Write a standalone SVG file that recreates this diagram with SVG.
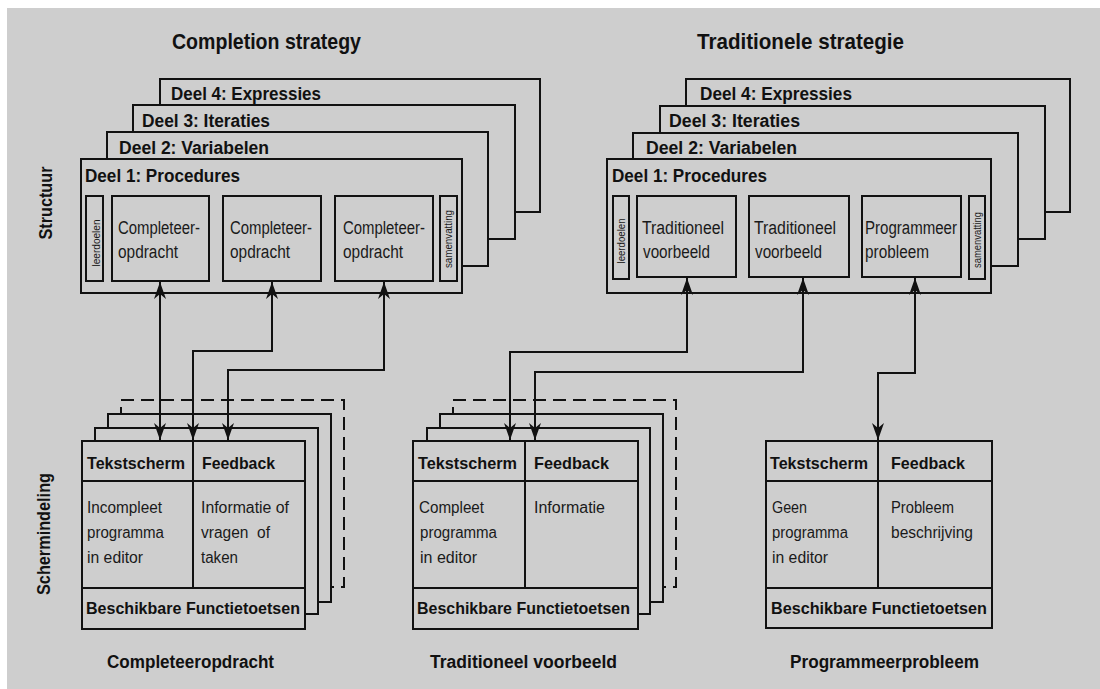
<svg xmlns="http://www.w3.org/2000/svg" width="1100" height="689" viewBox="0 0 1100 689">
<defs>
<style>
.bg{fill:#cecece}
.box{fill:#cecece;stroke:#111;stroke-width:2}
.dash{fill:#cecece;stroke:#111;stroke-width:2;stroke-dasharray:13 7}
.ln{fill:none;stroke:#111;stroke-width:2}
.con{fill:none;stroke:#111;stroke-width:2;marker-start:url(#ah);marker-end:url(#ah)}
text{font-family:"Liberation Sans Narrow","Liberation Sans",Arial,sans-serif;fill:#111}
.t{font-size:22px;font-weight:bold}
.h{font-size:18px;font-weight:bold}
.v{font-size:19px;font-weight:bold}
.b{font-size:18px;fill:#1a1a1a}
.s{font-size:11px;fill:#1a1a1a}
.sh{font-size:17px;font-weight:bold}
.sb{font-size:16px;fill:#1a1a1a}
.lab{font-size:18px;font-weight:bold}
</style>
<marker id="ah" viewBox="0 0 17 12" refX="17" refY="6" markerWidth="17" markerHeight="12" markerUnits="userSpaceOnUse" orient="auto-start-reverse">
<path d="M0,0 L17,6 L0,12 L5,6 Z" fill="#111"/>
</marker>
</defs>
<rect x="0" y="0" width="1100" height="689" fill="#ffffff"/>
<rect class="bg" x="7" y="8" width="1093" height="681"/>

<g id="side-labels">
<text class="v" transform="translate(52,203) rotate(-90)" text-anchor="middle" textLength="73" lengthAdjust="spacingAndGlyphs">Structuur</text>
<text class="v" transform="translate(50,534) rotate(-90)" text-anchor="middle" textLength="122" lengthAdjust="spacingAndGlyphs">Schermindeling</text>
</g>

<g id="completion-strategy">
<text class="t" x="172" y="49" textLength="189" lengthAdjust="spacingAndGlyphs">Completion strategy</text>
<g id="c-deel4"><rect class="box" x="160" y="79" width="380" height="133"/><text class="h" x="171" y="100" textLength="150" lengthAdjust="spacingAndGlyphs">Deel 4: Expressies</text></g>
<g id="c-deel3"><rect class="box" x="133" y="105" width="382" height="134"/><text class="h" x="142" y="127" textLength="128" lengthAdjust="spacingAndGlyphs">Deel 3: Iteraties</text></g>
<g id="c-deel2"><rect class="box" x="107" y="132" width="381" height="134"/><text class="h" x="119" y="154" textLength="150" lengthAdjust="spacingAndGlyphs">Deel 2: Variabelen</text></g>
<g id="c-deel1"><rect class="box" x="81" y="159" width="381" height="134"/><text class="h" x="85" y="182" textLength="155" lengthAdjust="spacingAndGlyphs">Deel 1: Procedures</text></g>
<g id="c-leerdoelen"><rect class="box" x="86" y="196" width="17" height="85"/><text class="s" transform="translate(100,243) rotate(-90)" text-anchor="middle" textLength="47" lengthAdjust="spacingAndGlyphs">leerdoelen</text></g>
<g id="c-opdr1"><rect class="box" x="112" y="196" width="97" height="85"/><text class="b" x="118" y="234" textLength="82" lengthAdjust="spacingAndGlyphs">Completeer-</text><text class="b" x="118" y="258" textLength="60" lengthAdjust="spacingAndGlyphs">opdracht</text></g>
<g id="c-opdr2"><rect class="box" x="223" y="196" width="98" height="85"/><text class="b" x="230" y="234" textLength="82" lengthAdjust="spacingAndGlyphs">Completeer-</text><text class="b" x="230" y="258" textLength="60" lengthAdjust="spacingAndGlyphs">opdracht</text></g>
<g id="c-opdr3"><rect class="box" x="335" y="196" width="98" height="85"/><text class="b" x="343" y="234" textLength="82" lengthAdjust="spacingAndGlyphs">Completeer-</text><text class="b" x="343" y="258" textLength="60" lengthAdjust="spacingAndGlyphs">opdracht</text></g>
<g id="c-samenvatting"><rect class="box" x="440" y="196" width="17" height="85"/><text class="s" transform="translate(452,239) rotate(-90)" text-anchor="middle" textLength="58" lengthAdjust="spacingAndGlyphs">samenvatting</text></g>
</g>

<g id="traditionele-strategie">
<text class="t" x="697" y="49" textLength="207" lengthAdjust="spacingAndGlyphs">Traditionele strategie</text>
<g id="t-deel4"><rect class="box" x="686" y="79" width="384" height="133"/><text class="h" x="700" y="100" textLength="152" lengthAdjust="spacingAndGlyphs">Deel 4: Expressies</text></g>
<g id="t-deel3"><rect class="box" x="660" y="106" width="385" height="133"/><text class="h" x="669" y="127" textLength="131" lengthAdjust="spacingAndGlyphs">Deel 3: Iteraties</text></g>
<g id="t-deel2"><rect class="box" x="633" y="133" width="385" height="133"/><text class="h" x="646" y="154" textLength="151" lengthAdjust="spacingAndGlyphs">Deel 2: Variabelen</text></g>
<g id="t-deel1"><rect class="box" x="607" y="159" width="384" height="134"/><text class="h" x="612" y="182" textLength="155" lengthAdjust="spacingAndGlyphs">Deel 1: Procedures</text></g>
<g id="t-leerdoelen"><rect class="box" x="613" y="196" width="16" height="83"/><text class="s" transform="translate(625,241) rotate(-90)" text-anchor="middle" textLength="45" lengthAdjust="spacingAndGlyphs">leerdoelen</text></g>
<g id="t-voorbeeld1"><rect class="box" x="637" y="196" width="99" height="81"/><text class="b" x="642" y="234" textLength="82" lengthAdjust="spacingAndGlyphs">Traditioneel</text><text class="b" x="643" y="258" textLength="67" lengthAdjust="spacingAndGlyphs">voorbeeld</text></g>
<g id="t-voorbeeld2"><rect class="box" x="749" y="196" width="100" height="81"/><text class="b" x="754" y="234" textLength="82" lengthAdjust="spacingAndGlyphs">Traditioneel</text><text class="b" x="755" y="258" textLength="67" lengthAdjust="spacingAndGlyphs">voorbeeld</text></g>
<g id="t-probleem"><rect class="box" x="862" y="196" width="99" height="81"/><text class="b" x="865" y="234" textLength="92" lengthAdjust="spacingAndGlyphs">Programmeer</text><text class="b" x="865" y="258" textLength="64" lengthAdjust="spacingAndGlyphs">probleem</text></g>
<g id="t-samenvatting"><rect class="box" x="969" y="196" width="16" height="83"/><text class="s" transform="translate(981,240) rotate(-90)" text-anchor="middle" textLength="56" lengthAdjust="spacingAndGlyphs">samenvatting</text></g>
</g>

<g id="scherm-completeeropdracht">
<rect class="dash" x="121" y="400" width="223" height="187"/>
<rect class="box" x="108" y="414" width="223" height="188"/>
<rect class="box" x="95" y="428" width="223" height="186"/>
<rect class="box" x="82" y="441" width="223" height="188"/>
<path class="ln" d="M82,481 H305 M82,588 H305 M193,441 V588"/>
<text class="sh" x="87" y="469" textLength="98" lengthAdjust="spacingAndGlyphs">Tekstscherm</text>
<text class="sh" x="202" y="469" textLength="73" lengthAdjust="spacingAndGlyphs">Feedback</text>
<text class="sb" x="87" y="513" textLength="75" lengthAdjust="spacingAndGlyphs">Incompleet</text>
<text class="sb" x="87" y="538" textLength="77" lengthAdjust="spacingAndGlyphs">programma</text>
<text class="sb" x="87" y="563" textLength="56" lengthAdjust="spacingAndGlyphs">in editor</text>
<text class="sb" x="201" y="513" textLength="88" lengthAdjust="spacingAndGlyphs">Informatie of</text>
<text class="sb" x="201" y="538" textLength="69" lengthAdjust="spacingAndGlyphs" xml:space="preserve">vragen  of</text>
<text class="sb" x="201" y="563" textLength="37" lengthAdjust="spacingAndGlyphs">taken</text>
<text class="sh" x="86" y="614" textLength="214" lengthAdjust="spacingAndGlyphs">Beschikbare Functietoetsen</text>
<text class="lab" x="107" y="668" textLength="167" lengthAdjust="spacingAndGlyphs">Completeeropdracht</text>
</g>

<g id="scherm-traditioneel-voorbeeld">
<rect class="dash" x="453" y="400" width="223" height="187"/>
<rect class="box" x="440" y="414" width="223" height="188"/>
<rect class="box" x="427" y="428" width="223" height="186"/>
<rect class="box" x="413" y="441" width="225" height="188"/>
<path class="ln" d="M413,481 H638 M413,588 H638 M525,441 V588"/>
<text class="sh" x="418" y="469" textLength="99" lengthAdjust="spacingAndGlyphs">Tekstscherm</text>
<text class="sh" x="534" y="469" textLength="75" lengthAdjust="spacingAndGlyphs">Feedback</text>
<text class="sb" x="419" y="513" textLength="65" lengthAdjust="spacingAndGlyphs">Compleet</text>
<text class="sb" x="420" y="538" textLength="77" lengthAdjust="spacingAndGlyphs">programma</text>
<text class="sb" x="420" y="563" textLength="57" lengthAdjust="spacingAndGlyphs">in editor</text>
<text class="sb" x="534" y="513" textLength="71" lengthAdjust="spacingAndGlyphs">Informatie</text>
<text class="sh" x="417" y="614" textLength="213" lengthAdjust="spacingAndGlyphs">Beschikbare Functietoetsen</text>
<text class="lab" x="430" y="668" textLength="187" lengthAdjust="spacingAndGlyphs">Traditioneel voorbeeld</text>
</g>

<g id="scherm-programmeerprobleem">
<rect class="box" x="766" y="441" width="226" height="187"/>
<path class="ln" d="M766,481 H992 M766,588 H992 M878,441 V588"/>
<text class="sh" x="770" y="469" textLength="98" lengthAdjust="spacingAndGlyphs">Tekstscherm</text>
<text class="sh" x="891" y="469" textLength="74" lengthAdjust="spacingAndGlyphs">Feedback</text>
<text class="sb" x="772" y="513" textLength="35" lengthAdjust="spacingAndGlyphs">Geen</text>
<text class="sb" x="772" y="538" textLength="76" lengthAdjust="spacingAndGlyphs">programma</text>
<text class="sb" x="772" y="563" textLength="56" lengthAdjust="spacingAndGlyphs">in editor</text>
<text class="sb" x="891" y="513" textLength="63" lengthAdjust="spacingAndGlyphs">Probleem</text>
<text class="sb" x="891" y="538" textLength="82" lengthAdjust="spacingAndGlyphs">beschrijving</text>
<text class="sh" x="771" y="614" textLength="216" lengthAdjust="spacingAndGlyphs">Beschikbare Functietoetsen</text>
<text class="lab" x="790" y="668" textLength="189" lengthAdjust="spacingAndGlyphs">Programmeerprobleem</text>
</g>

<g id="connectors">
<path class="con" d="M160,282 L160,440"/>
<path class="con" d="M272,282 L272,351 L193,351 L193,440"/>
<path class="con" d="M384,282 L384,370 L228,370 L228,440"/>
<path class="con" d="M687,278 L687,352 L510,352 L510,440"/>
<path class="con" d="M803,278 L803,372 L535,372 L535,440"/>
<path class="con" d="M915,278 L915,373 L878,373 L878,440"/>
</g>
</svg>
